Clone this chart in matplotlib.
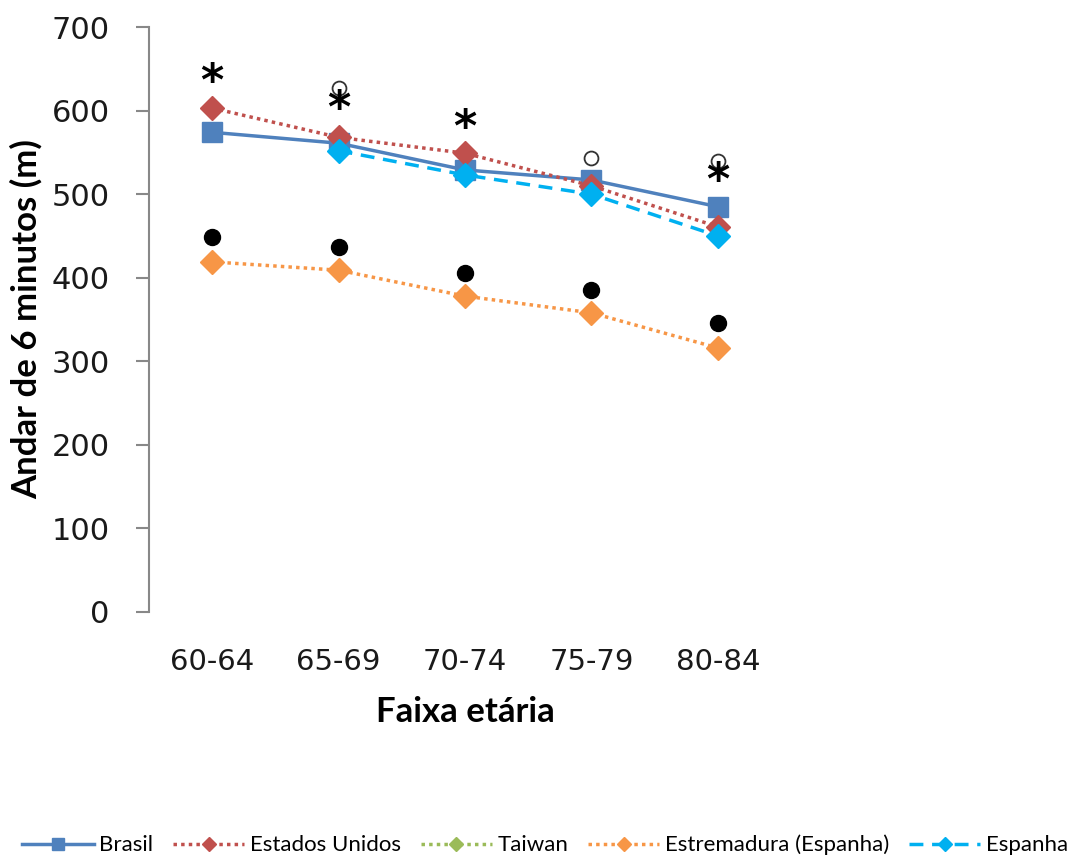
import numpy as np
import matplotlib.pyplot as plt

# Dados do gráfico
faixas = ['60-64', '65-69', '70-74', '75-79', '80-84']
brasil = [574, 561, 529, 517, 485]
estados_unidos = [603, 568, 549, 510, 461]
taiwan = [np.nan, np.nan, np.nan, np.nan, np.nan]
estremadura = [419, 409, 378, 358, 316]
espanha = [np.nan, 552, 523, 500, 450]

# Marcas de significância (valores em metros)
asterisco_x = [0, 1, 2, 4]
asterisco_y = [634, 601, 579, 515]
circulo_aberto_x = [1, 3, 4]
circulo_aberto_y = [627, 543, 540]
circulo_cheio_x = [0, 1, 2, 3, 4]
circulo_cheio_y = [449, 437, 406, 385, 346]

fig = plt.figure(figsize=(10.69, 8.61), dpi=100)
ax = fig.add_axes([0.1394, 0.2892, 0.5912, 0.6794])

x = np.arange(len(faixas))
pontilhado = (0, (1, 1.2))

ax.plot(x, brasil, color='#4F81BD', lw=2.5, marker='s', ms=14, label='Brasil')
ax.plot(x, estados_unidos, color='#C0504D', lw=2.5, ls=pontilhado, marker='D', ms=12,
        label='Estados Unidos')
ax.plot(x, taiwan, color='#9BBB59', lw=2.5, ls=pontilhado, marker='D', ms=12, label='Taiwan')
ax.plot(x, estremadura, color='#F79646', lw=2.5, ls=pontilhado, marker='D', ms=12,
        label='Estremadura (Espanha)')
ax.plot(x, espanha, color='#00B0F0', lw=2.5, ls=(0, (4, 2.5)), marker='D', ms=12, label='Espanha')

# símbolos
ax.plot(circulo_cheio_x, circulo_cheio_y, ls='none', marker='o', ms=11.5, color='black')
ax.plot(circulo_aberto_x, circulo_aberto_y, ls='none', marker='o', ms=10, mfc='none',
        mec='#333333', mew=1.3)
for xi, yi in zip(asterisco_x, asterisco_y):
    ax.text(xi, yi, '*', ha='center', va='center', fontsize=32, fontweight='bold',
            family='DejaVu Sans')

ax.set_xlim(-0.5, 4.5)
ax.set_ylim(0, 700)
ax.set_yticks(np.arange(0, 701, 100))
ax.set_xticks(x)
ax.set_xticklabels(faixas)

for s in ['top', 'right', 'bottom']:
    ax.spines[s].set_visible(False)
ax.spines['left'].set_color('#888888')
ax.spines['left'].set_linewidth(1.5)
ax.tick_params(axis='y', length=9.4, width=1.5, color='#888888', labelsize=22, pad=19,
               labelcolor='#1a1a1a')
ax.tick_params(axis='x', length=0, labelsize=21, pad=26, labelcolor='#1a1a1a')

ax.set_ylabel('Andar de 6 minutos (m)', fontsize=25, fontweight='bold', family='Lato',
              labelpad=6)
ax.set_xlabel('Faixa etária', fontsize=25, fontweight='bold', family='Lato', labelpad=14)

handles, labels = ax.get_legend_handles_labels()
leg = fig.legend(handles, labels, loc='center', bbox_to_anchor=(0.51, 0.0186), ncol=5,
                 frameon=False, prop={'family': 'Lato', 'size': 16},
                 handlelength=3.2, columnspacing=0.9, handletextpad=0.25, markerscale=0.6)

fig.savefig('out.png', dpi=100)
